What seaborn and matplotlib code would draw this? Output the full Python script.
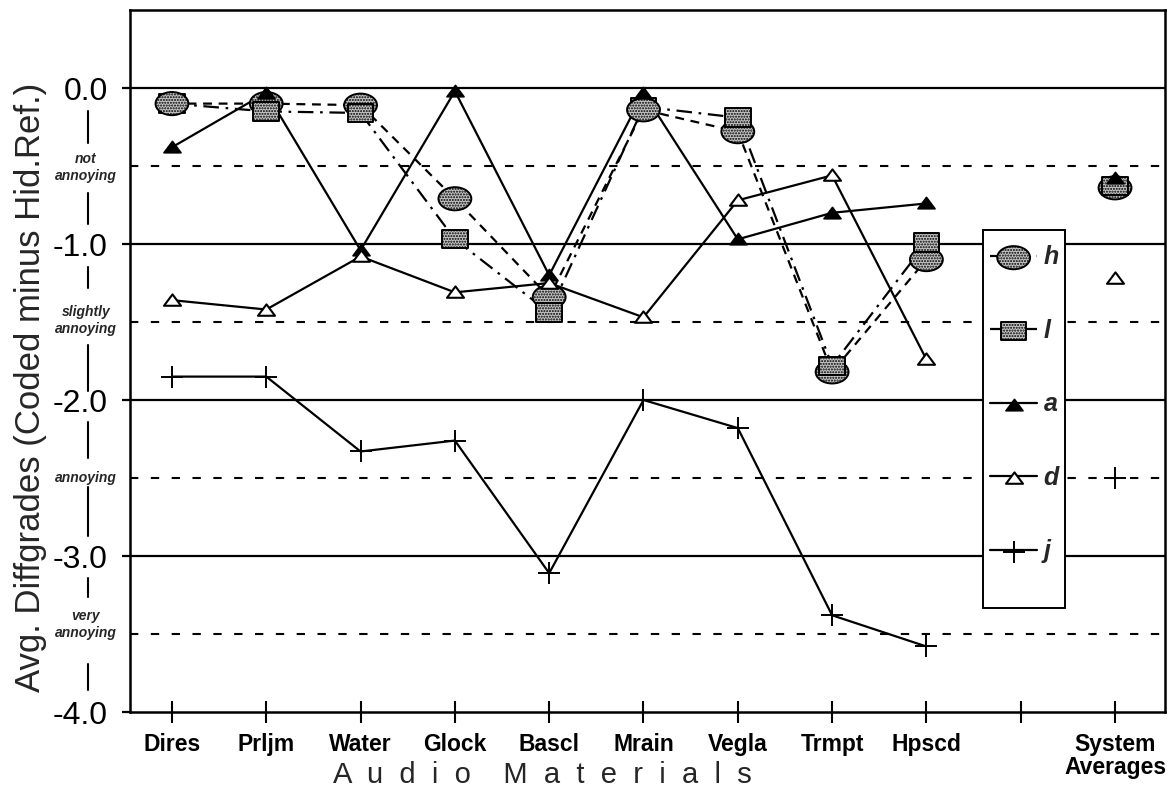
import numpy as np
import pandas as pd
import matplotlib
matplotlib.use("Agg")
import matplotlib.pyplot as plt
import matplotlib.transforms as mtransforms
from matplotlib.path import Path
from matplotlib.lines import Line2D
from matplotlib.patches import Rectangle
import seaborn as sns

# ---- data -------------------------------------------------------------
materials = ["Dires", "Prljm", "Water", "Glock", "Bascl", "Mrain", "Vegla", "Trmpt", "Hpscd"]
tick_labels = materials + ["", "System\nAverages"]

h_vals = [-0.10, -0.10, -0.11, -0.71, -1.34, -0.14, -0.28, -1.82, -1.10]
l_vals = [-0.10, -0.15, -0.16, -0.97, -1.44, -0.12, -0.19, -1.78, -0.99]
a_vals = [-0.38, -0.03, -1.04, -0.02, -1.20, -0.03, -0.97, -0.80, -0.74]
d_vals = [-1.36, -1.42, -1.08, -1.31, -1.25, -1.47, -0.72, -0.56, -1.74]
j_vals = [-1.85, -1.85, -2.33, -2.26, -3.11, -2.00, -2.18, -3.38, -3.58]

system_names = ["h", "l", "a", "d", "j"]
system_avg = [-0.64, -0.63, -0.58, -1.22, -2.50]

grade_ticks = [0.0, -1.0, -2.0, -3.0, -4.0]
grade_labels = ["0.0", "-1.0", "-2.0", "-3.0", "-4.0"]
band_levels = [-0.5, -1.5, -2.5, -3.5]
band_names = ["not\nannoying", "slightly\nannoying", "annoying", "very\nannoying"]

# ---- style ------------------------------------------------------------
sns.set_theme(style="white")
plt.rcParams["font.family"] = ["Liberation Sans", "DejaVu Sans"]
plt.rcParams["hatch.linewidth"] = 1.0

W, H = 1174, 796
fig = plt.figure(figsize=(W / 100, H / 100), dpi=100)
ax = fig.add_axes([130 / W, 1 - 712 / H, (1165 - 130) / W, (712 - 10) / H])

pos = np.arange(1, len(materials) + 1)
avg_pos = len(tick_labels)

# ellipse, flattened rectangle and flattened triangle markers
uc = Path.unit_circle()
ellipse = Path(uc.vertices * np.array([1.42, 1.0]), uc.codes)
rect = Path([(-1.4, -1), (1.4, -1), (1.4, 1), (-1.4, 1), (-1.4, -1)],
            [Path.MOVETO, Path.LINETO, Path.LINETO, Path.LINETO, Path.CLOSEPOLY])
tri = Path([(-1, -0.62), (1, -0.62), (0, 0.72), (-1, -0.62)],
           [Path.MOVETO, Path.LINETO, Path.LINETO, Path.CLOSEPOLY])

dash_map = {"h": (4, 3), "l": (7, 3, 1.2, 3), "a": "", "d": "", "j": ""}

# ---- reference grid ---------------------------------------------------
for y in grade_ticks[:-1]:
    ax.axhline(y, color="black", lw=1.6, zorder=1)
for y in band_levels:
    ax.axhline(y, color="black", lw=1.5, ls=(0, (4, 6)), zorder=1)

# ---- connecting lines over the audio materials -------------------------
line_df = pd.DataFrame({
    "pos": np.tile(pos, len(system_names)),
    "grade": np.concatenate([h_vals, l_vals, a_vals, d_vals, j_vals]),
    "system": np.repeat(system_names, len(materials)),
})
sns.lineplot(data=line_df, x="pos", y="grade", hue="system", style="system",
             palette={k: "black" for k in system_names}, dashes=dash_map,
             linewidth=1.6, sort=False, legend=False, ax=ax, zorder=3)

# ---- markers (materials + system averages) -----------------------------
series_vals = {"h": h_vals, "l": l_vals, "a": a_vals, "d": d_vals, "j": j_vals}
stipple = "#c4c4c4"
marker_spec = {
    "h": dict(marker=ellipse, s=560, color=stipple, edgecolor="black", linewidth=1.4, hatch="......"),
    "l": dict(marker=rect, s=340, color=stipple, edgecolor="black", linewidth=1.4, hatch="......"),
    "a": dict(marker=tri, s=150, color="black", edgecolor="black", linewidth=1.2),
    "d": dict(marker=tri, s=150, color="white", edgecolor="black", linewidth=1.5),
    "j": dict(marker="+", s=230, color="black", linewidth=1.4),
}
# drawing order: squares sit above the circles except where the circle covers them
square_below = [True, False, False, False, False, True, False, False, False, False]
layer = {"h": 4.5, "l": 5, "a": 6, "d": 6, "j": 6}

handles = []
for name, avg in zip(system_names, system_avg):
    xs = np.append(pos, avg_pos)
    ys = np.append(series_vals[name], avg)
    if name == "l":
        under = np.array(square_below)
        sns.scatterplot(x=xs[under], y=ys[under], ax=ax, legend=False, zorder=4,
                        **marker_spec[name])
        sns.scatterplot(x=xs[~under], y=ys[~under], ax=ax, legend=False, zorder=layer[name],
                        **marker_spec[name])
    else:
        sns.scatterplot(x=xs, y=ys, ax=ax, legend=False, zorder=layer[name],
                        **marker_spec[name])
    coll = ax.collections[-1]
    d = dash_map[name]
    stub = Line2D([], [], color="black", lw=1.6, ls=(0, d) if d else "-")
    handles.append((stub, coll))

# ---- legend box --------------------------------------------------------
box = Rectangle((0.824, 0.148), 0.079, 0.539, transform=ax.transAxes,
                facecolor="white", edgecolor="black", lw=1.4, zorder=2.5)
ax.add_patch(box)
leg = ax.legend(handles, system_names, loc="upper left", bbox_to_anchor=(0.826, 0.672),
                frameon=False, handlelength=1.9, handletextpad=0.25, labelspacing=1.98,
                borderpad=0.2, borderaxespad=0, scatterpoints=1,
                prop=dict(size=18, style="italic", weight="bold"))
leg.set_zorder(7)

# ---- axes, ticks, labels ----------------------------------------------
ax.set_xlim(0.555, 11.53)
ax.set_ylim(-4.0, 0.5)
ax.set_xticks(np.arange(1, len(tick_labels) + 1))
ax.set_xticklabels(tick_labels, fontsize=16.5, fontweight="bold", linespacing=1.0)
ax.set_yticks(grade_ticks)
ax.set_yticklabels(grade_labels, fontsize=23)
ax.tick_params(axis="x", direction="inout", length=16, width=1.5, pad=7, colors="black")
ax.tick_params(axis="y", direction="out", length=6, width=1.6, pad=10, colors="black")
ax.tick_params(axis="x", bottom=True)
ax.tick_params(axis="y", left=True)
for sp in ax.spines.values():
    sp.set_color("black")
    sp.set_linewidth(1.8)

ax.set_ylabel("Avg. Diffgrades (Coded minus Hid.Ref.)", fontsize=25, va="center")
ax.yaxis.set_label_coords(-0.0966, 0.462)
ax.set_xlabel("A  u  d  i  o    M  a  t  e  r  i  a  l  s", fontsize=21, va="center")
ax.xaxis.set_label_coords((4.93 - 0.555) / (11.53 - 0.555), -0.0897)

# annoyance scale beside the y axis
trans = mtransforms.blended_transform_factory(ax.transAxes, ax.transData)
band_text_y = [-0.51, -1.49, -2.5, -3.44]
for name, y in zip(band_names, band_text_y):
    ax.text(-0.0425, y, name, transform=trans, ha="center", va="center",
            fontsize=10, style="italic", fontweight="bold", linespacing=1.25,
            clip_on=False)
bar_spans = [(-0.15, -0.35), (-0.67, -0.87), (-1.15, -1.28), (-1.65, -1.94),
             (-2.14, -2.37), (-2.56, -2.87), (-3.14, -3.26), (-3.69, -3.86)]
for y0, y1 in bar_spans:
    ax.add_line(Line2D([-0.0406, -0.0406], [y0, y1], transform=trans,
                       color="black", lw=1.5, clip_on=False))

fig.savefig("out.png", dpi=100)
